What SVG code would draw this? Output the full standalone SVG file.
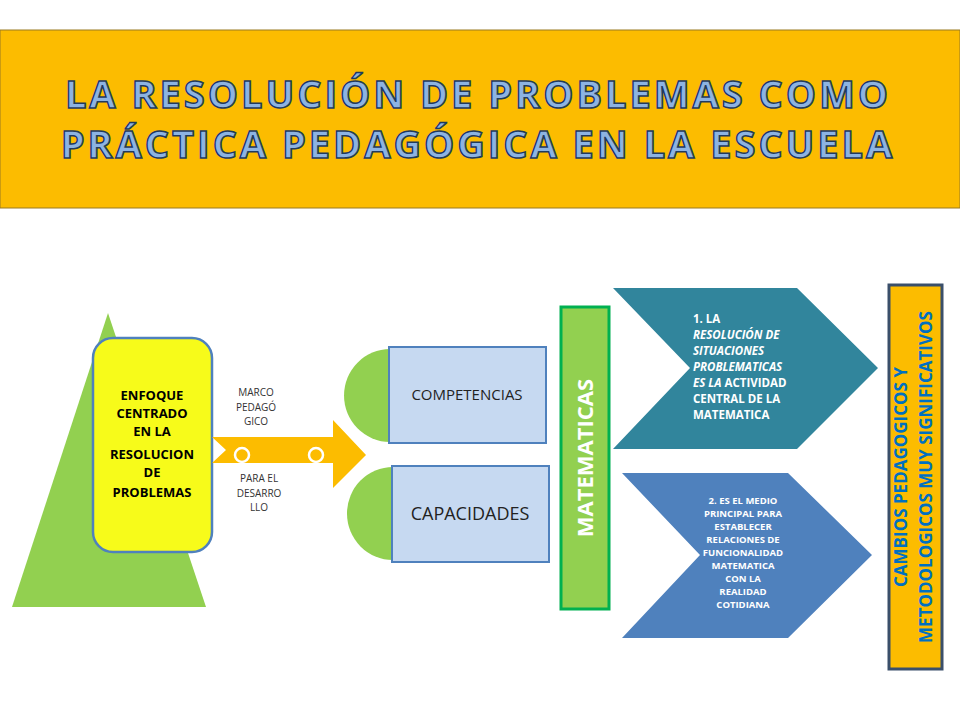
<svg xmlns="http://www.w3.org/2000/svg" width="960" height="720" viewBox="0 0 960 720">
<style>
.t{font-family:"Open Sans","Liberation Sans",sans-serif;font-weight:bold;font-size:38px;fill:#8DB3E2;stroke:#1F3A5F;stroke-width:1.5;letter-spacing:3px;text-anchor:middle}
.b{font-family:"Open Sans","Liberation Sans",sans-serif;font-weight:bold;fill:#000;font-size:13px;text-anchor:middle}
.s{font-family:"Open Sans","Liberation Sans",sans-serif;fill:#333;font-size:10px;text-anchor:middle}
.w{font-family:"Open Sans","Liberation Sans",sans-serif;font-weight:bold;fill:#fff}
.m{font-family:"Open Sans","Liberation Sans",sans-serif;fill:#222;text-anchor:middle}
</style>
<rect width="960" height="720" fill="#fff"/>
<g id="title">
<rect x="0" y="30" width="960" height="178" fill="#FCBC00" stroke="#9A7A20" stroke-width="1"/>
<text class="t" x="478" y="108">LA RESOLUCIÓN DE PROBLEMAS COMO</text>
<text class="t" x="478" y="158">PRÁCTICA PEDAGÓGICA EN LA ESCUELA</text>
</g>
<g id="triangle"><polygon points="108,313 206,607 12,607" fill="#92D050"/></g>
<g id="enfoque">
<rect x="93" y="338" width="119" height="214" rx="20" fill="#F7FB1A" stroke="#4F81BD" stroke-width="2.5"/>
<text class="b"><tspan x="152" y="400">ENFOQUE</tspan><tspan x="152" y="418">CENTRADO</tspan><tspan x="152" y="436">EN LA</tspan><tspan x="152" y="459">RESOLUCION</tspan><tspan x="152" y="477">DE</tspan><tspan x="152" y="497">PROBLEMAS</tspan></text>
</g>
<g id="connectors">
<polygon points="212,437 333,437 333,420 366,455 333,488 333,463 212,463 226,450" fill="#FCBC00"/>
<circle cx="242" cy="455" r="7" fill="none" stroke="#fff" stroke-width="2.5"/>
<circle cx="316" cy="455" r="7" fill="none" stroke="#fff" stroke-width="2.5"/>
<text class="s"><tspan x="256" y="396">MARCO</tspan><tspan x="256" y="411">PEDAGÓ</tspan><tspan x="256" y="425">GICO</tspan></text>
<text class="s"><tspan x="259" y="482">PARA EL</tspan><tspan x="259" y="497">DESARRO</tspan><tspan x="259" y="511">LLO</tspan></text>
</g>
<g id="competencias">
<path d="M390,349 A46,46.5 0 0 0 390,442 Z" fill="#92D050"/>
<rect x="389" y="347" width="157" height="96" fill="#C6D9F1" stroke="#4F81BD" stroke-width="2"/>
<text class="m" x="467" y="400" font-size="15">COMPETENCIAS</text>
</g>
<g id="capacidades">
<path d="M393,467 A46,46.5 0 0 0 393,560 Z" fill="#92D050"/>
<rect x="392" y="466" width="157" height="96" fill="#C6D9F1" stroke="#4F81BD" stroke-width="2"/>
<text class="m" x="470" y="520" font-size="18">CAPACIDADES</text>
</g>
<g id="matematicas">
<rect x="561" y="307" width="48" height="302" fill="#92D050" stroke="#00B050" stroke-width="3"/>
<text class="w" transform="translate(593,458) rotate(-90)" text-anchor="middle" font-size="22">MATEMATICAS</text>
</g>
<g id="chevron1">
<polygon points="613,288 797,288 878,368 797,449 613,449 690,368" fill="#31859C"/>
<text class="w" font-size="11.5"><tspan x="693" y="323">1. LA</tspan><tspan x="693" y="339" font-style="italic">RESOLUCIÓN DE</tspan><tspan x="693" y="355" font-style="italic">SITUACIONES</tspan><tspan x="693" y="371" font-style="italic">PROBLEMATICAS</tspan><tspan x="693" y="387"><tspan font-style="italic">ES LA</tspan> ACTIVIDAD</tspan><tspan x="693" y="403">CENTRAL DE LA</tspan><tspan x="693" y="419">MATEMATICA</tspan></text>
</g>
<g id="chevron2">
<polygon points="622,473 788,473 872,555 788,638 622,638 700,555" fill="#4F81BD"/>
<text class="w" font-size="9.5" text-anchor="middle"><tspan x="743" y="504">2. ES EL MEDIO</tspan><tspan x="743" y="517">PRINCIPAL PARA</tspan><tspan x="743" y="530">ESTABLECER</tspan><tspan x="743" y="543">RELACIONES DE</tspan><tspan x="743" y="556">FUNCIONALIDAD</tspan><tspan x="743" y="569">MATEMATICA</tspan><tspan x="743" y="582">CON LA</tspan><tspan x="743" y="595">REALIDAD</tspan><tspan x="743" y="608">COTIDIANA</tspan></text>
</g>
<g id="cambios">
<rect x="889" y="285" width="53" height="384" fill="#FCBC00" stroke="#3A4F6A" stroke-width="3"/>
<text font-family="Open Sans,Liberation Sans,sans-serif" font-weight="bold" font-size="17" fill="#0070C0" text-anchor="middle" transform="translate(915,477) rotate(-90)"><tspan x="0" y="-8">CAMBIOS  PEDAGOGICOS  Y</tspan><tspan x="0" y="17">METODOLOGICOS  MUY SIGNIFICATIVOS</tspan></text>
</g>
</svg>
